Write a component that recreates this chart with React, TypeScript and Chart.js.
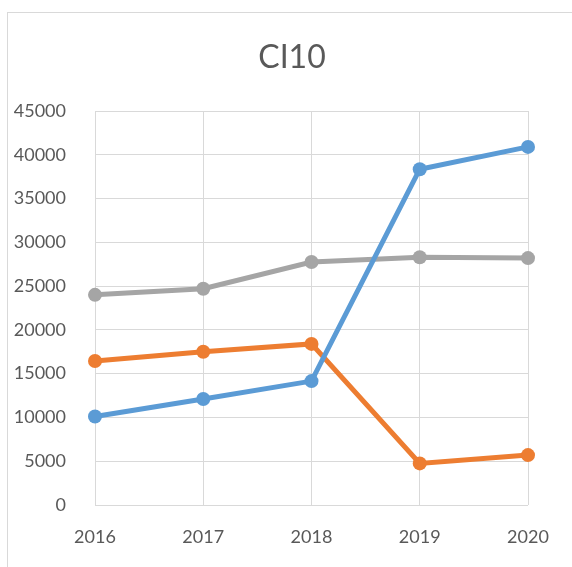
import React, { useEffect, useRef } from "react";
import { Chart, registerables } from "chart.js";

Chart.register(...registerables);

const categories = ["2016", "2017", "2018", "2019", "2020"];
const blueSeries = [10100, 12100, 14150, 38350, 40900];
const orangeSeries = [16450, 17500, 18400, 4750, 5700];
const graySeries = [24000, 24700, 27750, 28300, 28200];
const titleText = "CI10";

const titlePlugin = {
  id: "customTitle",
  afterDraw(chart: any) {
    const c = chart.ctx;
    c.save();
    c.fillStyle = "#595959";
    c.font = "32px Lato";
    c.textAlign = "center";
    c.textBaseline = "middle";
    c.fillText(titleText, 292, 58);
    c.restore();
  },
};

export default function App() {
  const ref = useRef<HTMLCanvasElement | null>(null);
  useEffect(() => {
    const ctx = ref.current!;
    const mk = (data: number[], color: string) => ({
      label: "",
      data,
      borderColor: color,
      backgroundColor: color,
      borderWidth: 5,
      pointRadius: 7,
      pointHoverRadius: 7,
      pointBorderWidth: 0,
      tension: 0,
    });
    const chart = new Chart(ctx, {
      type: "line",
      data: {
        labels: categories,
        datasets: [
          mk(blueSeries, "#5B9BD5"),
          mk(orangeSeries, "#ED7D31"),
          mk(graySeries, "#A5A5A5"),
        ],
      },
      options: {
        animation: false,
        responsive: false,
        maintainAspectRatio: false,
        layout: { padding: { left: 0, right: 44, top: 111, bottom: 0 } },
        plugins: {
          legend: { display: false },
          tooltip: { enabled: false },
          title: { display: false },
        },
        scales: {
          x: {
            offset: false,
            grid: { color: "#d9d9d9", lineWidth: 1, drawTicks: false },
            border: { display: false },
            ticks: {
              color: "#595959",
              font: { family: "Lato", size: 18 },
              padding: 21,
              maxRotation: 0,
            },
            afterFit: (s: any) => {
              s.height = 62;
            },
          },
          y: {
            min: 0,
            max: 45000,
            grid: { color: "#d9d9d9", lineWidth: 1, drawTicks: false },
            border: { display: false },
            ticks: {
              stepSize: 5000,
              color: "#595959",
              font: { family: "Lato", size: 18 },
              padding: 29,
              callback: (v: any) => String(v),
            },
            afterFit: (s: any) => {
              s.width = 95;
            },
          },
        },
      },
      plugins: [titlePlugin],
    });
    return () => chart.destroy();
  }, []);
  return (
    <div style={{ position: "fixed", left: 0, top: 0, width: 572, height: 567, background: "#fff", overflow: "hidden" }}>
      <div
        style={{
          position: "absolute",
          left: 7,
          top: 12,
          width: 700,
          height: 700,
          borderLeft: "1px solid #d9d9d9",
          borderTop: "1px solid #d9d9d9",
        }}
      />
      <canvas ref={ref} width={572} height={567} style={{ position: "absolute", left: 0, top: 0 }} />
    </div>
  );
}
